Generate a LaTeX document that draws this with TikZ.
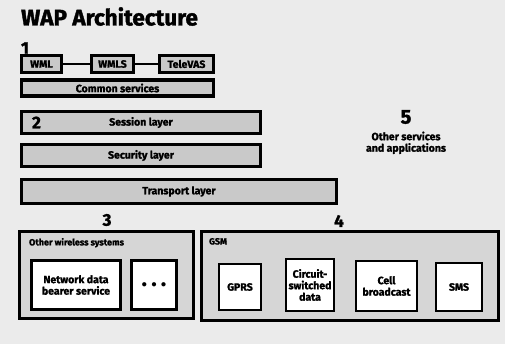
\documentclass[tikz,border=0pt]{standalone}
\usepackage{fontspec}
\setmainfont{Fira Sans}[BoldFeatures={FakeBold=1.6}]
\usetikzlibrary{positioning}

\begin{document}
\begin{tikzpicture}[
    x=1pt, y=-1pt,
    node distance=24pt,
    every node/.style={font=\fontsize{10.5}{11.5}\selectfont\bfseries},
    layer/.style={
        draw,
        line width=3.2pt,
        fill=gray!42,
        minimum height=16pt,
        inner sep=2pt
    },
    unit/.style={
        draw,
        line width=2.4pt,
        fill=white,
        align=center,
        inner sep=1pt
    },
    group/.style={
        draw,
        line width=3.2pt,
        fill=gray!32
    },
    num/.style={
        font=\fontsize{17}{18}\selectfont\bfseries,
        inner sep=0pt
    }
]

% page background
\fill[gray!16] (0,0) rectangle (505,344);
\useasboundingbox (0,0) rectangle (505,344);

\node[anchor=north west, inner sep=0pt, font=\fontsize{22.5}{24}\selectfont\bfseries] (title) at (21,7) {WAP Architecture};

% layer 1: application environment
\node[num] (one) at (25,48) {1};
\node[layer, minimum width=40pt, minimum height=17pt] (wml) at (41.5,64) {WML};
\node[layer, minimum width=42pt, minimum height=17pt] (wmls) at (112.5,64) {WMLS};
\node[layer, minimum width=54pt, minimum height=17pt] (televas) at (186.5,64) {TeleVAS};
\draw[line width=2pt] (wml) -- (wmls);
\draw[line width=2pt] (wmls) -- (televas);
\node[layer, minimum width=192pt] (common) at (117.5,88) {Common services};

% layers 2 to transport
\node[layer, minimum width=239pt, minimum height=22pt] (session) at (141,122.5) {Session layer};
\node[num, right=0pt of session.west, xshift=12pt] (two) {2};
\node[layer, minimum width=239pt, minimum height=22pt] (security) at (141,155.5) {Security layer};
\node[layer, minimum width=315pt, minimum height=24pt] (transport) at (179,191.5) {Transport layer};

% bearers
\node[num] (three) at (107,220) {3};
\node[group, minimum width=174pt, minimum height=87pt] (other) at (106.5,275) {};
\node[anchor=north west, inner sep=0pt, font=\fontsize{9}{10}\selectfont\bfseries] (otherlbl) at ([xshift=11pt,yshift=-8pt]other.north west) {Other wireless systems};
\node[unit, minimum width=89pt, minimum height=49pt] (netdata) at (76,285) {Network data\\bearer service};
\node[unit, minimum width=45pt, minimum height=49pt] (dots) at (154,285) {$\bullet\,\bullet\,\bullet$};

\node[num] (four) at (339,221) {4};
\node[group, minimum width=297pt, minimum height=89pt] (gsm) at (350,276) {};
\node[anchor=north west, inner sep=0pt, font=\fontsize{9}{10}\selectfont\bfseries] (gsmlbl) at ([xshift=9pt,yshift=-8pt]gsm.north west) {GSM};
\node[unit, minimum width=42pt, minimum height=46pt] (gprs) at (240,287) {GPRS};
\node[unit, minimum width=48pt, minimum height=52pt] (csd) at (310,285) {Circuit-\\switched\\data};
\node[unit, minimum width=61pt, minimum height=50pt] (cell) at (386.5,286) {Cell\\broadcast};
\node[unit, minimum width=46pt, minimum height=48pt] (sms) at (459,287) {SMS};

% other services
\node[num, font=\fontsize{20}{22}\selectfont\bfseries] (five) at (406,117) {5};
\node[align=center, below=4pt of five] (services) {Other services\\and applications};

\end{tikzpicture}
\end{document}
